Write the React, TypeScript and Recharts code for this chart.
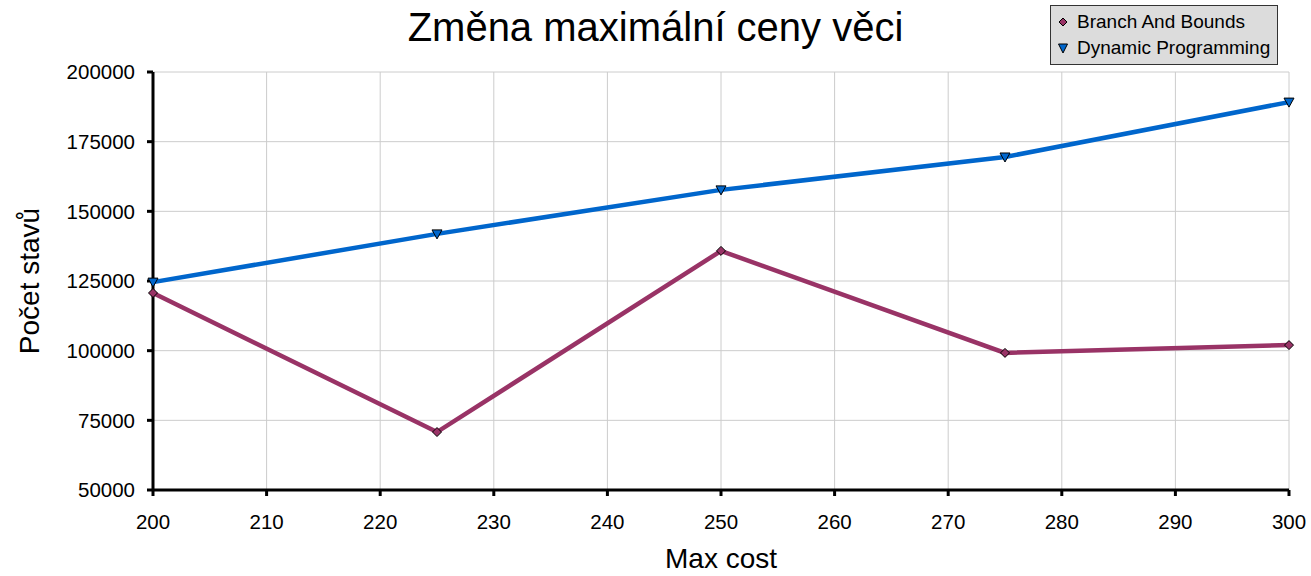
import React from "react";
import { LineChart, Line, XAxis, YAxis, CartesianGrid, Label } from "recharts";

const maxCost = [200, 225, 250, 275, 300];
const branchAndBounds = [120700, 70800, 135800, 99200, 102000];
const dynamicProgramming = [124600, 141900, 157700, 169500, 189200];
const xTicks = [200, 210, 220, 230, 240, 250, 260, 270, 280, 290, 300];
const yTicks = [50000, 75000, 100000, 125000, 150000, 175000, 200000];

const data = maxCost.map((c, i) => ({ cost: c, bb: branchAndBounds[i], dp: dynamicProgramming[i] }));

const FONT = "Arial, 'Liberation Sans', sans-serif";
const BB_COLOR = "#993366";
const DP_COLOR = "#0066CC";

const Diamond = (props: any) => {
  const { cx, cy } = props;
  if (cx == null || cy == null) return null;
  const r = 4.5;
  return (
    <path
      d={`M${cx},${cy - r} L${cx + r},${cy} L${cx},${cy + r} L${cx - r},${cy} Z`}
      fill={BB_COLOR}
      stroke="#000"
      strokeWidth={1}
    />
  );
};

const Triangle = (props: any) => {
  const { cx, cy } = props;
  if (cx == null || cy == null) return null;
  const r = 5;
  return (
    <path
      d={`M${cx - r},${cy - r + 1} L${cx + r},${cy - r + 1} L${cx},${cy + r} Z`}
      fill={DP_COLOR}
      stroke="#000"
      strokeWidth={1}
    />
  );
};

const LegendBox = () => (
  <div
    style={{
      position: "absolute",
      left: 1050,
      top: 5,
      width: 228,
      height: 60,
      background: "#dcdcdc",
      border: "1px solid #333",
      fontFamily: FONT,
      fontSize: 19,
      color: "#000",
      boxSizing: "border-box",
      padding: "3px 0 0 5px",
      lineHeight: "26px",
    }}
  >
    <div style={{ display: "flex", alignItems: "center", height: 26 }}>
      <svg width={14} height={14} style={{ marginRight: 7 }}>
        <path d="M7,3 L11,7 L7,11 L3,7 Z" fill={BB_COLOR} stroke="#000" strokeWidth={1} />
      </svg>
      Branch And Bounds
    </div>
    <div style={{ display: "flex", alignItems: "center", height: 26 }}>
      <svg width={14} height={14} style={{ marginRight: 7 }}>
        <path d="M2.5,3 L11.5,3 L7,12 Z" fill={DP_COLOR} stroke="#000" strokeWidth={1} />
      </svg>
      Dynamic Programming
    </div>
  </div>
);

export default function App() {
  return (
    <div style={{ position: "absolute", left: 0, top: 0, width: 1311, height: 576, background: "#fff" }}>
      <div
        style={{
          position: "absolute",
          left: 0,
          width: 1311,
          top: 5,
          textAlign: "center",
          fontFamily: FONT,
          fontSize: 40,
          color: "#000",
        }}
      >
        Změna maximální ceny věci
      </div>
      <LineChart
        width={1311}
        height={576}
        data={data}
        margin={{ top: 72, right: 22, bottom: 0, left: 0 }}
        style={{ fontFamily: FONT }}
      >
        <CartesianGrid stroke="#cccccc" strokeWidth={1} />
        <XAxis
          dataKey="cost"
          type="number"
          domain={[200, 300]}
          ticks={xTicks}
          interval={0}
          height={86}
          stroke="#000"
          strokeWidth={3}
          tickSize={6}
          tickMargin={18}
          tick={{ fill: "#000", fontSize: 20.5, fontFamily: FONT }}
        >
          <Label value="Max cost" position="insideBottom" offset={8} style={{ fill: "#000", fontSize: 28, fontFamily: FONT }} />
        </XAxis>
        <YAxis
          type="number"
          domain={[50000, 200000]}
          ticks={yTicks}
          interval={0}
          width={153}
          stroke="#000"
          strokeWidth={3}
          tickSize={6}
          tickMargin={12}
          tick={{ fill: "#000", fontSize: 20.5, fontFamily: FONT }}
        >
          <Label
            value="Počet stavů"
            angle={-90}
            position="insideLeft"
            offset={29}
            style={{ fill: "#000", fontSize: 28, fontFamily: FONT, textAnchor: "middle" }}
          />
        </YAxis>
        <Line
          dataKey="bb"
          stroke={BB_COLOR}
          strokeWidth={4.5}
          dot={<Diamond />}
          activeDot={false}
          isAnimationActive={false}
        />
        <Line
          dataKey="dp"
          stroke={DP_COLOR}
          strokeWidth={4.5}
          dot={<Triangle />}
          activeDot={false}
          isAnimationActive={false}
        />
      </LineChart>
      <LegendBox />
    </div>
  );
}
